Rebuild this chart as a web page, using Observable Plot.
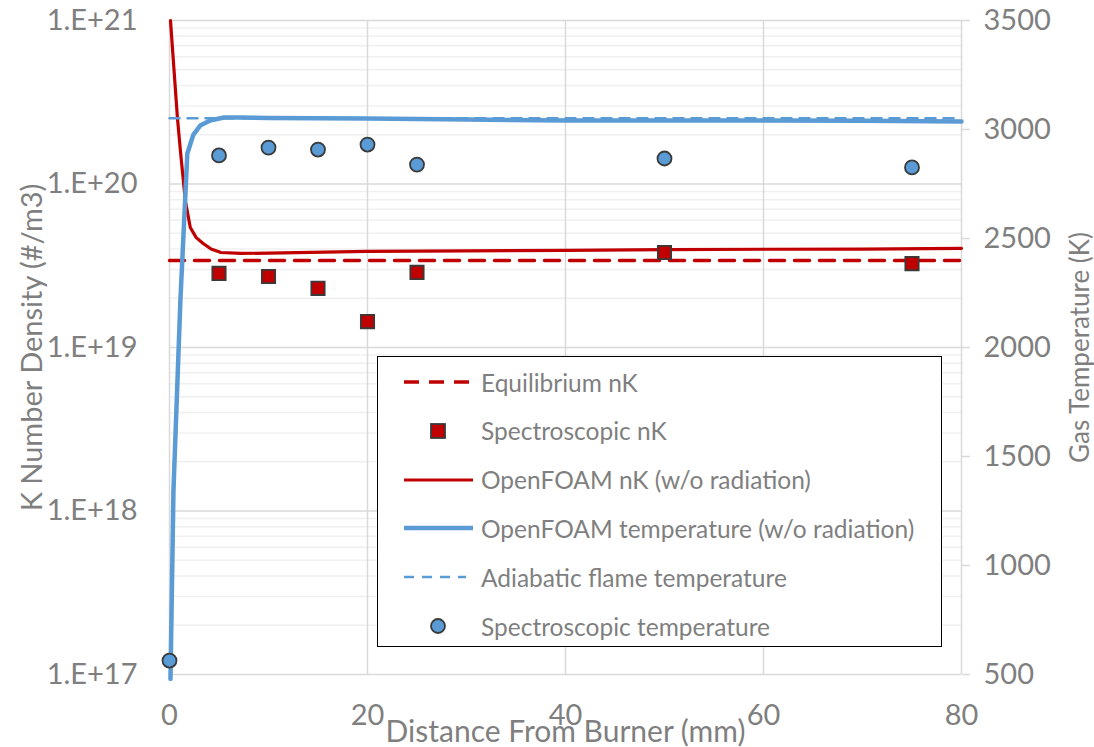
<!DOCTYPE html>
<html>
<head>
<meta charset="utf-8">
<script src="https://cdn.jsdelivr.net/npm/d3@7"></script>
<script src="https://cdn.jsdelivr.net/npm/@observablehq/plot@0.6"></script>
<style>
  html, body { margin: 0; padding: 0; background: #fff; }
  #wrap { position: relative; width: 1094px; height: 747px; font-family: Lato, "Open Sans", sans-serif; }
  #legend { position: absolute; left: 377px; top: 356px; width: 563px; height: 289px; border: 1.6px solid #000; background: #fff; box-sizing: content-box; }
  .item { position: absolute; left: 0; height: 30px; display: flex; align-items: center; }
  .item svg { display: block; }
  .item span { font-size: 24.5px; color: #7f7f7f; margin-left: 8px; white-space: nowrap; }
</style>
</head>
<body>
<div id="wrap"><div id="legend"></div></div>
<script>
// ---- data ----
const xTicks = [0, 20, 40, 60, 80];
const nkTicks = [1e17, 1e18, 1e19, 1e20, 1e21];
const tempTicks = [500, 1000, 1500, 2000, 2500, 3000, 3500];

const equilibriumX = [0, 80];
const equilibriumNK = [3.4e19, 3.4e19];

const specNkX = [5, 10, 15, 20, 25, 50, 75];
const specNk = [2.84e19, 2.72e19, 2.30e19, 1.44e19, 2.88e19, 3.81e19, 3.26e19];

const foamNkX = [0.1, 0.8, 1.1, 1.6, 2.1, 2.7, 3.4, 4.2, 5.2, 7.2, 10, 20, 30, 40, 50, 60, 70, 80];
const foamNk = [1.0e21, 2.55e20, 1.6e20, 7.9e19, 5.42e19, 4.7e19, 4.33e19, 4.0e19, 3.81e19, 3.76e19, 3.78e19, 3.87e19, 3.9e19, 3.93e19, 3.97e19, 3.99e19, 4.0e19, 4.04e19];

const foamTX = [0.1, 0.4, 1.1, 1.8, 2.4, 3.1, 4.1, 5.5, 7.2, 10, 20, 30, 40, 50, 60, 70, 80];
const foamT = [480, 1344, 2216, 2890, 2975, 3018, 3041, 3055, 3055, 3053, 3050, 3046, 3041, 3041, 3041, 3040, 3037];

const adiabaticX = [0, 80];
const adiabaticT = [3052, 3052];

const specTX = [0, 5, 10, 15, 20, 25, 50, 75];
const specT = [564, 2881, 2917, 2908, 2931, 2839, 2867, 2826];

const legendNames = ["Equilibrium nK", "Spectroscopic nK", "OpenFOAM nK (w/o radiation)",
  "OpenFOAM temperature (w/o radiation)", "Adiabatic flame temperature", "Spectroscopic temperature"];

// ---- styles ----
const RED = "#C00000", BLUE = "#5B9BD5", EDGE = "#3a3a3a", TXT = "#7f7f7f";
const GRID = "#d9d9d9", MINOR = "#f0f0f0";

// secondary axis: temperature 500..3500 mapped onto log nK 1e17..1e21
const tToY = t => Math.pow(10, 17 + (t - 500) / 750);
const yToT = v => Math.round(500 + 750 * (Math.log10(v) - 17));

const minor = [];
for (let e = 17; e < 21; e++) for (let m = 2; m <= 9; m++) minor.push(m * Math.pow(10, e));

const eqData = equilibriumX.map((x, i) => ({x, y: equilibriumNK[i]}));
const specNkData = specNkX.map((x, i) => ({x, y: specNk[i]}));
const foamNkData = foamNkX.map((x, i) => ({x, y: foamNk[i]}));
const foamTData = foamTX.map((x, i) => ({x, y: tToY(foamT[i])}));
const adiaData = adiabaticX.map((x, i) => ({x, y: tToY(adiabaticT[i])}));
const specTData = specTX.map((x, i) => ({x, y: tToY(specT[i])}));

const chart = Plot.plot({
  width: 1094, height: 747,
  marginLeft: 169, marginRight: 133, marginTop: 20, marginBottom: 73,
  style: {fontFamily: "Lato, 'Open Sans', sans-serif", fontSize: "29px", color: TXT, background: "transparent"},
  x: {domain: [0, 80]},
  y: {type: "log", domain: [1e17, 1e21]},
  marks: [
    Plot.ruleY(minor, {stroke: MINOR, strokeWidth: 1.5}),
    Plot.ruleY(nkTicks, {stroke: GRID, strokeWidth: 1.5}),
    Plot.ruleX(xTicks, {stroke: GRID, strokeWidth: 1.5}),
    Plot.axisX(xTicks, {tickSize: 0, tickPadding: 30, label: null, fill: TXT}),
    Plot.axisY(nkTicks, {anchor: "left", tickSize: 0, tickPadding: 32, label: null, fill: TXT,
      tickFormat: d => "1.E+" + Math.round(Math.log10(d))}),
    Plot.axisY(tempTicks.map(tToY), {anchor: "right", tickSize: 8, tickPadding: 14, label: null, fill: TXT,
      stroke: GRID, strokeWidth: 1.5, tickFormat: d => String(yToT(d))}),
    Plot.text(["Distance From Burner (mm)"], {frameAnchor: "bottom", dy: 58, text: d => d, fontSize: 30, fill: TXT, lineAnchor: "middle", textAnchor: "middle"}),
    Plot.text(["K Number Density (#/m3)"], {frameAnchor: "left", dx: -137, rotate: -90, text: d => d, fontSize: 29, fill: TXT, lineAnchor: "middle", textAnchor: "middle"}),
    Plot.text(["Gas Temperature (K)"], {frameAnchor: "right", dx: 119, rotate: -90, text: d => d, fontSize: 26, fill: TXT, lineAnchor: "middle", textAnchor: "middle"}),
    Plot.line(eqData, {x: "x", y: "y", stroke: RED, strokeWidth: 3.5, strokeDasharray: "15 10"}),
    Plot.line(foamNkData, {x: "x", y: "y", stroke: RED, strokeWidth: 3.2}),
    Plot.dot(specNkData, {x: "x", y: "y", symbol: "square", r: 7.5, fill: RED, stroke: EDGE, strokeWidth: 1.8}),
    Plot.line(foamTData, {x: "x", y: "y", stroke: BLUE, strokeWidth: 4.5}),
    Plot.line(adiaData, {x: "x", y: "y", stroke: BLUE, strokeWidth: 2.5, strokeDasharray: "10 8"}),
    Plot.dot(specTData, {x: "x", y: "y", symbol: "circle", r: 7, fill: BLUE, stroke: EDGE, strokeWidth: 1.8})
  ]
});
const wrap = document.getElementById("wrap");
chart.style.position = "absolute"; chart.style.left = "0"; chart.style.top = "0";
wrap.insertBefore(chart, wrap.firstChild);

// ---- legend ----
const swatches = [
  `<line x1="26" y1="15" x2="95" y2="15" stroke="${RED}" stroke-width="3.5" stroke-dasharray="15 10"/>`,
  `<rect x="53" y="8" width="14" height="14" fill="${RED}" stroke="${EDGE}" stroke-width="1.8"/>`,
  `<line x1="26" y1="15" x2="95" y2="15" stroke="${RED}" stroke-width="3.2"/>`,
  `<line x1="26" y1="15" x2="95" y2="15" stroke="${BLUE}" stroke-width="4.5"/>`,
  `<line x1="26" y1="15" x2="88" y2="15" stroke="${BLUE}" stroke-width="2.5" stroke-dasharray="10 8"/>`,
  `<circle cx="60" cy="15" r="7" fill="${BLUE}" stroke="${EDGE}" stroke-width="1.8"/>`
];
const legend = document.getElementById("legend");
legendNames.forEach((name, i) => {
  const d = document.createElement("div");
  d.className = "item";
  d.style.top = (10 + i * 48.8) + "px";
  d.innerHTML = `<svg width="95" height="30">${swatches[i]}</svg><span>${name}</span>`;
  legend.appendChild(d);
});
</script>
</body>
</html>
